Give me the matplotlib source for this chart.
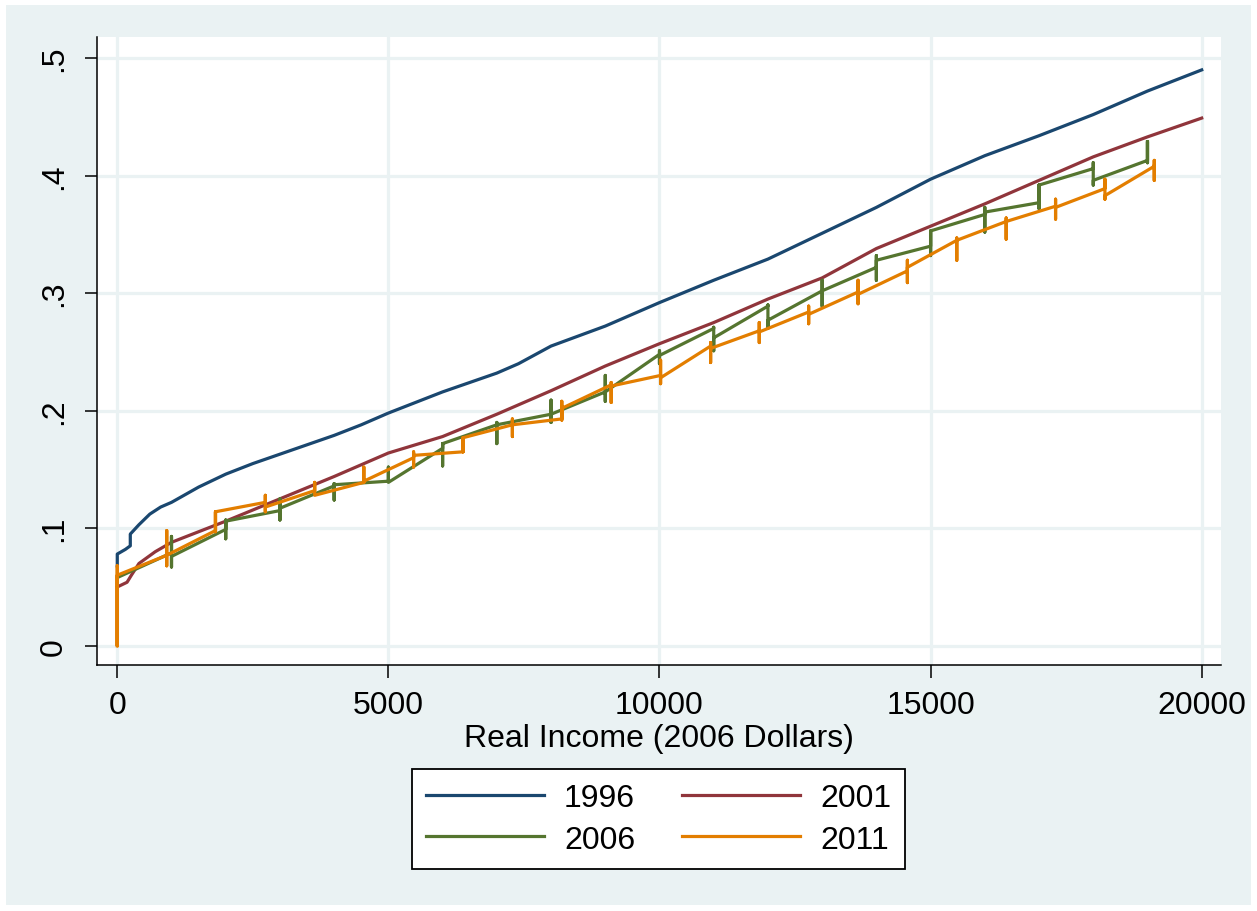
import numpy as np
import matplotlib.pyplot as plt
from matplotlib.patches import Rectangle

plt.rcParams['font.family'] = ['Liberation Sans', 'DejaVu Sans']

# 1996 and 2001: smooth-ish cumulative curves
x_1996 = [0, 0, 150, 240, 240, 400, 600, 800, 1000, 1500, 2000, 2500, 3000, 3500, 4000,
          4500, 5000, 6000, 7000, 7400, 8000, 9000, 10000, 11000, 12000, 13000, 14000,
          15000, 16000, 17000, 18000, 19000, 20000]
y_1996 = [0.068, 0.078, 0.082, 0.085, 0.095, 0.103, 0.112, 0.118, 0.122, 0.135, 0.146, 0.155,
          0.163, 0.171, 0.179, 0.188, 0.198, 0.216, 0.232, 0.240, 0.255, 0.272, 0.292, 0.311,
          0.329, 0.351, 0.373, 0.397, 0.417, 0.434, 0.452, 0.472, 0.490]

x_2001 = [0, 180, 260, 400, 700, 1000, 1500, 2000, 3000, 4000, 5000, 6000, 7000, 8000, 9000,
          10000, 11000, 12000, 13000, 14000, 15000, 16000, 17000, 18000, 19000, 20000]
y_2001 = [0.050, 0.054, 0.060, 0.070, 0.080, 0.088, 0.097, 0.106, 0.125, 0.144, 0.164, 0.178,
          0.197, 0.217, 0.238, 0.257, 0.275, 0.295, 0.313, 0.338, 0.357, 0.376, 0.396, 0.416,
          0.433, 0.449]

# 2006: heaping at round thousands
start_2006 = (0, 0.058)
heap_x_2006 = [1000, 2000, 3000, 4000, 5000, 6000, 7000, 8000, 9000, 10000, 11000, 12000,
               13000, 14000, 15000, 16000, 17000, 18000, 19000]
arrive_2006 = [0.079, 0.099, 0.115, 0.136, 0.140, 0.168, 0.188, 0.197, 0.216, 0.248, 0.270,
               0.289, 0.302, 0.322, 0.340, 0.367, 0.377, 0.406, 0.413]
top_2006 = [0.093, 0.107, 0.125, 0.138, 0.152, 0.172, 0.190, 0.209, 0.230, 0.251, 0.271,
            0.290, 0.311, 0.332, 0.353, 0.373, 0.392, 0.411, 0.429]
bottom_2006 = [0.067, 0.091, 0.107, 0.124, 0.139, 0.153, 0.172, 0.190, 0.208, 0.240, 0.251,
               0.270, 0.289, 0.311, 0.332, 0.352, 0.372, 0.392, 0.411]
depart_2006 = [0.076, 0.106, 0.117, 0.137, 0.139, 0.172, 0.188, 0.197, 0.216, 0.247, 0.262,
               0.277, 0.302, 0.328, 0.353, 0.369, 0.392, 0.396, 0.429]

# 2011: heaping at round amounts in 2011 dollars
heap_x_2011 = [0, 912, 1811, 2730, 3641, 4547, 5465, 6376, 7287, 8198, 9109, 10020, 10943,
               11840, 12751, 13662, 14572, 15483, 16394, 17305, 18215, 19125]
arrive_2011 = [0.0, 0.077, 0.098, 0.122, 0.132, 0.139, 0.160, 0.165, 0.188, 0.193, 0.222,
               0.230, 0.255, 0.268, 0.284, 0.301, 0.319, 0.345, 0.361, 0.374, 0.389, 0.408]
top_2011 = [0.068, 0.098, 0.114, 0.128, 0.139, 0.152, 0.165, 0.177, 0.193, 0.208, 0.224,
            0.243, 0.258, 0.275, 0.289, 0.311, 0.328, 0.347, 0.364, 0.380, 0.397, 0.413]
bottom_2011 = [0.0, 0.068, 0.097, 0.114, 0.128, 0.139, 0.152, 0.165, 0.178, 0.192, 0.207,
               0.223, 0.241, 0.258, 0.274, 0.291, 0.309, 0.328, 0.346, 0.363, 0.380, 0.396]
depart_2011 = [0.060, 0.077, 0.114, 0.118, 0.128, 0.140, 0.162, 0.177, 0.188, 0.202, 0.221,
               0.228, 0.253, 0.267, 0.282, 0.299, 0.322, 0.345, 0.361, 0.373, 0.383, 0.408]

labels = ["1996", "2001", "2006", "2011"]
colors = ["#1A476F", "#90353B", "#55752F", "#E37E00"]
bg = "#EAF2F3"


def heap_path(hx, arrive, top, bottom, depart, start=None):
    xs, ys = [], []
    if start is not None:
        xs.append(start[0])
        ys.append(start[1])
    for x, a, t, b, d in zip(hx, arrive, top, bottom, depart):
        xs += [x, x, x, x]
        ys += [a, t, b, d]
    return xs, ys


x_2006, y_2006 = heap_path(heap_x_2006, arrive_2006, top_2006, bottom_2006, depart_2006, start_2006)
x_2011, y_2011 = heap_path(heap_x_2011, arrive_2011, top_2011, bottom_2011, depart_2011)

fig = plt.figure(figsize=(12.57, 9.12), dpi=100)
fig.patch.set_facecolor("white")
fig.patches.append(Rectangle((6 / 1257, 6 / 912), 1245 / 1257, 900 / 912,
                             transform=fig.transFigure, facecolor=bg, edgecolor="none", zorder=-5))

ax = fig.add_axes([97 / 1257, 1 - 666 / 912, 1124 / 1257, 628 / 912])
ax.set_facecolor("white")

lw = 2.3
lines = []
lines += ax.plot(x_1996, y_1996, color=colors[0], lw=lw, label=labels[0])
lines += ax.plot(x_2001, y_2001, color=colors[1], lw=lw, label=labels[1])
lines += ax.plot(x_2006, y_2006, color=colors[2], lw=lw, label=labels[2])
lines += ax.plot(x_2011, y_2011, color=colors[3], lw=lw, label=labels[3])

ax.set_xlim(-374, 20356)
ax.set_ylim(-0.0164, 0.518)

xt = [0, 5000, 10000, 15000, 20000]
yt = [0, 0.1, 0.2, 0.3, 0.4, 0.5]
ax.set_xticks(xt)
ax.set_xticklabels([str(v) for v in xt])
ax.set_yticks(yt)
ax.set_yticklabels(["0", ".1", ".2", ".3", ".4", ".5"], rotation=90, va="center")

ax.grid(True, color=bg, lw=2.3)
ax.set_axisbelow(True)

for s in ["top", "right"]:
    ax.spines[s].set_visible(False)
for s in ["left", "bottom"]:
    ax.spines[s].set_linewidth(1.1)
    ax.spines[s].set_color("black")

ax.tick_params(axis="both", length=9, width=1.1, labelsize=23, color="black")
ax.tick_params(axis="x", pad=9)
ax.tick_params(axis="y", pad=11)

ax.set_xlabel("Real Income (2006 Dollars)", fontsize=23, labelpad=2)

# row-wise legend order: 1996 2001 / 2006 2011
order = [0, 2, 1, 3]
leg = fig.legend([lines[i] for i in order], [labels[i] for i in order],
                 loc="center", bbox_to_anchor=(658.5 / 1257, 1 - 820 / 912), ncol=2,
                 fontsize=23, frameon=True, fancybox=False, edgecolor="black",
                 facecolor="white", framealpha=1,
                 handlelength=3.7, handletextpad=0.62, columnspacing=1.47,
                 borderpad=0.45, labelspacing=0.35)
leg.get_frame().set_linewidth(1.3)

fig.savefig("out.png", dpi=100, facecolor=fig.get_facecolor())
